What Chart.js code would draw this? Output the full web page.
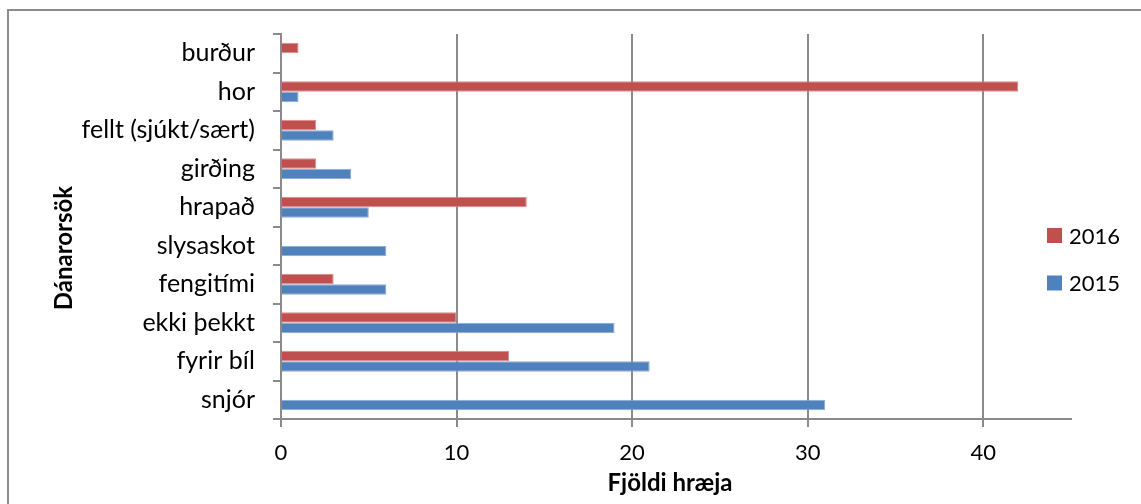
<!DOCTYPE html>
<html>
<head>
<meta charset="utf-8">
<title>Dánarorsök</title>
<script src="https://cdn.jsdelivr.net/npm/chart.js@4/dist/chart.umd.min.js"></script>
<style>
  html, body { margin: 0; padding: 0; background: #ffffff; overflow: hidden; }
  #wrap { width: 1141px; height: 504px; }
</style>
</head>
<body>
<div id="wrap"><canvas id="chart" width="1141" height="504"></canvas></div>
<script>
// Causes of death, listed top to bottom
const categories = ['burður', 'hor', 'fellt (sjúkt/sært)', 'girðing', 'hrapað',
                    'slysaskot', 'fengitími', 'ekki þekkt', 'fyrir bíl', 'snjór'];
const seriesNames = ['2016', '2015'];
const values2016 = [1, 42, 2, 2, 14, 0, 3, 10, 13, 0];
const values2015 = [0, 1, 3, 4, 5, 6, 6, 19, 21, 31];
const xTicks = [0, 10, 20, 30, 40];
const xMax = 45;
const xTitle = 'Fjöldi hræja';
const yTitle = 'Dánarorsök';

const FONT = 'Lato, "Open Sans", sans-serif';
const GRID = '#8a8a8a';
const RED = '#c0504d';
const BLUE = '#4f81bd';

// Thin grey frame around the whole figure
const framePlugin = {
  id: 'frame',
  beforeDraw(chart) {
    const ctx = chart.ctx;
    ctx.save();
    ctx.fillStyle = '#ffffff';
    ctx.fillRect(0, 0, chart.width, chart.height);
    ctx.strokeStyle = '#8c8c8c';
    ctx.lineWidth = 2;
    ctx.strokeRect(8, 10, 2000, 2000);
    ctx.restore();
  }
};

// Axis titles, placed beside the plot
const axisTitlePlugin = {
  id: 'axisTitles',
  afterDraw(chart) {
    const ctx = chart.ctx;
    ctx.save();
    ctx.font = 'bold 24px ' + FONT;
    ctx.fillStyle = '#000000';
    ctx.textAlign = 'center';
    ctx.textBaseline = 'middle';
    ctx.fillText(xTitle, 670, 483);
    ctx.translate(64, 248);
    ctx.rotate(-Math.PI / 2);
    ctx.fillText(yTitle, 0, 0);
    ctx.restore();
  }
};

// Series key on the right, square swatch + year
const keyPlugin = {
  id: 'sideKey',
  afterDraw(chart) {
    const ctx = chart.ctx;
    const ds = chart.data.datasets;
    const x0 = 1047, size = 15, firstY = 235.5, step = 47.5;
    ctx.save();
    ctx.font = '22px ' + FONT;
    ctx.textBaseline = 'middle';
    ctx.textAlign = 'left';
    ds.forEach((d, i) => {
      const cy = firstY + i * step;
      ctx.fillStyle = d.backgroundColor;
      ctx.fillRect(x0, cy - size / 2, size, size);
      ctx.fillStyle = '#000000';
      ctx.fillText(d.label, x0 + 22, cy + 1);
    });
    ctx.restore();
  }
};

new Chart(document.getElementById('chart'), {
  type: 'bar',
  data: {
    labels: categories,
    datasets: [
      { label: seriesNames[0], data: values2016, backgroundColor: RED,
        borderColor: '#d98c8a', borderWidth: 1 },
      { label: seriesNames[1], data: values2015, backgroundColor: BLUE,
        borderColor: '#8aaad6', borderWidth: 1 }
    ]
  },
  options: {
    indexAxis: 'y',
    responsive: false,
    animation: false,
    devicePixelRatio: 1,
    layout: { padding: { top: 34, right: 70, bottom: 0, left: 0 } },
    datasets: { bar: { categoryPercentage: 0.545, barPercentage: 1.0 } },
    plugins: {
      legend: { display: false },
      tooltip: { enabled: false }
    },
    scales: {
      x: {
        type: 'linear',
        min: 0,
        max: xMax,
        afterBuildTicks(scale) { scale.ticks = xTicks.map(v => ({ value: v })); },
        afterFit(scale) { scale.height = 85; },
        ticks: {
          stepSize: 10,
          includeBounds: false,
          color: '#000000',
          padding: 13,
          font: { family: FONT, size: 22 }
        },
        grid: {
          color: GRID,
          lineWidth: 2,
          drawOnChartArea: true,
          drawTicks: true,
          tickLength: 8,
          tickColor: GRID
        },
        border: { display: true, color: GRID, width: 2 },
        title: { display: false }
      },
      y: {
        type: 'category',
        offset: true,
        afterFit(scale) { scale.width = 281; },
        ticks: {
          color: '#000000',
          padding: 18,
          font: { family: FONT, size: 25 }
        },
        grid: {
          offset: true,
          color: GRID,
          lineWidth: 2,
          drawOnChartArea: false,
          drawTicks: true,
          tickLength: 8,
          tickColor: GRID
        },
        border: { display: true, color: GRID, width: 2 },
        title: { display: false }
      }
    }
  },
  plugins: [framePlugin, axisTitlePlugin, keyPlugin]
});
</script>
</body>
</html>
